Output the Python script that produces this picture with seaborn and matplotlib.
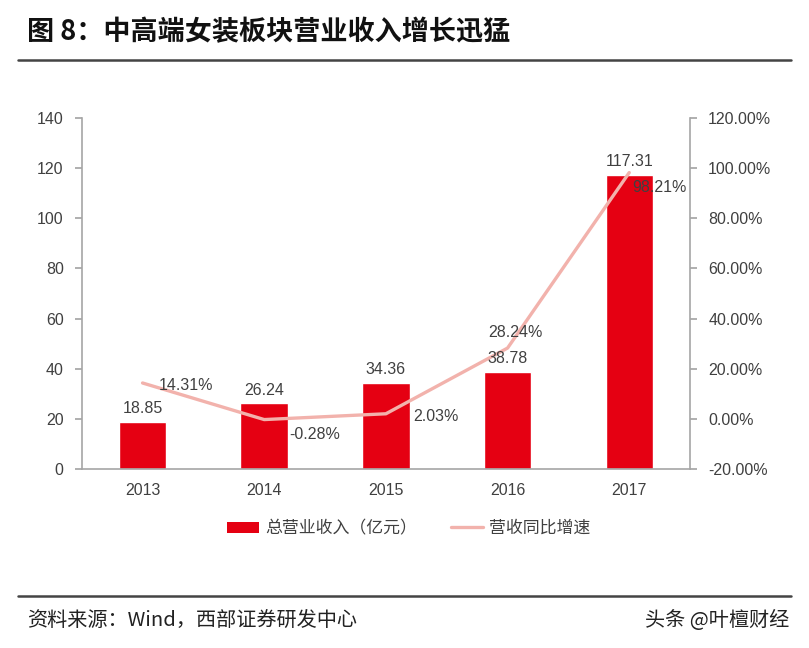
import matplotlib
matplotlib.use("Agg")
import matplotlib.pyplot as plt
import seaborn as sns
import numpy as np
import pandas as pd
from matplotlib.patches import Patch
from matplotlib.lines import Line2D

sns.set_theme(style="white")
plt.rcParams['font.family'] = ['Noto Sans CJK SC', 'DejaVu Sans']

years = ["2013", "2014", "2015", "2016", "2017"]
revenue = [18.85, 26.24, 34.36, 38.78, 117.31]
growth = [14.31, -0.28, 2.03, 28.24, 98.21]
left_ticks = [0, 20, 40, 60, 80, 100, 120, 140]
right_ticks = [-20, 0, 20, 40, 60, 80, 100, 120]

bar_color = "#E50012"
line_color = "#F2B2AC"
text_color = "#404040"
spine_color = "#A6A6A6"
num_font = ["Liberation Sans", "DejaVu Sans"]

df = pd.DataFrame({"year": years, "revenue": revenue, "growth": growth})

fig = plt.figure(figsize=(8.09, 6.48), dpi=100)
ax = fig.add_axes([0.101, 0.2762, 0.752, 0.5418])

sns.barplot(data=df, x="year", y="revenue", color=bar_color, width=0.39,
            saturation=1, ax=ax)
ax.set_ylim(0, 140)
ax.set_xlim(-0.5, len(years) - 0.5)
ax.set_yticks(left_ticks)
ax.set_xlabel("")
ax.set_ylabel("")

ax2 = ax.twinx()
xpos = np.arange(len(years))
sns.lineplot(x=xpos, y=df["growth"], color=line_color, linewidth=2.4, ax=ax2)
ax2.set_ylim(-20, 120)
ax2.set_yticks(right_ticks)
ax2.set_yticklabels([f"{t:.2f}%" for t in right_ticks])
ax2.set_ylabel("")

# bar value labels (placed on top layer so the line does not cover them)
for i, v in enumerate(revenue):
    ax2.annotate(f"{v:.2f}", (i, v), xycoords=ax.transData, xytext=(0, 4),
                 textcoords="offset points", ha="center", va="bottom",
                 fontsize=11.5, color=text_color, family=num_font, zorder=5)

offsets = [(12, -2), (18, -11), (20, -2), (-14, 11), (2, -11)]
for i, g in enumerate(growth):
    dx, dy = offsets[i]
    ax2.annotate(f"{g:.2f}%", (i, g), xytext=(dx, dy), textcoords="offset points",
                 ha="left", va="center", fontsize=11.5, color=text_color,
                 family=num_font, zorder=5)

for a in (ax, ax2):
    for s in a.spines.values():
        s.set_visible(False)
ax.spines["left"].set_visible(True)
ax.spines["bottom"].set_visible(True)
ax2.spines["right"].set_visible(True)
for s in (ax.spines["left"], ax.spines["bottom"], ax2.spines["right"]):
    s.set_color(spine_color)
    s.set_linewidth(1.2)

ax.tick_params(axis="y", direction="out", length=5, color=spine_color,
               labelcolor=text_color, labelsize=11.5, left=True, pad=8)
ax.tick_params(axis="x", length=0, labelcolor=text_color, labelsize=11.5, pad=10)
ax2.tick_params(axis="y", direction="out", length=5, color=spine_color,
                labelcolor=text_color, labelsize=11.5, right=True, pad=8)
for lab in ax.get_yticklabels() + ax.get_xticklabels() + ax2.get_yticklabels():
    lab.set_family(num_font)

handles = [Patch(facecolor=bar_color, edgecolor="none"),
           Line2D([0], [0], color=line_color, linewidth=2.4)]
fig.legend(handles, ["总营业收入（亿元）", "营收同比增速"], loc="center",
           bbox_to_anchor=(0.505, 0.185), ncol=2, frameon=False,
           fontsize=12.2, handlelength=1.9, handleheight=0.6,
           columnspacing=2.0, handletextpad=0.35, labelcolor=text_color)

fig.text(0.033, 0.951, "图 8：中高端女装板块营业收入增长迅猛", fontsize=19.5,
         fontweight="bold", color="#111111", va="center", ha="left")
fig.add_artist(Line2D([0.022, 0.978], [0.907, 0.907], color="#444444",
                      linewidth=1.8, transform=fig.transFigure))
fig.add_artist(Line2D([0.022, 0.978], [0.08, 0.08], color="#444444",
                      linewidth=1.8, transform=fig.transFigure))
fig.text(0.033, 0.043, "资料来源：Wind，西部证券研发中心", fontsize=14.5,
         color="#222222", va="center", ha="left")
fig.text(0.976, 0.043, "头条 @叶檀财经", fontsize=14.5,
         color="#222222", va="center", ha="right")

fig.savefig("out.png", dpi=100)
